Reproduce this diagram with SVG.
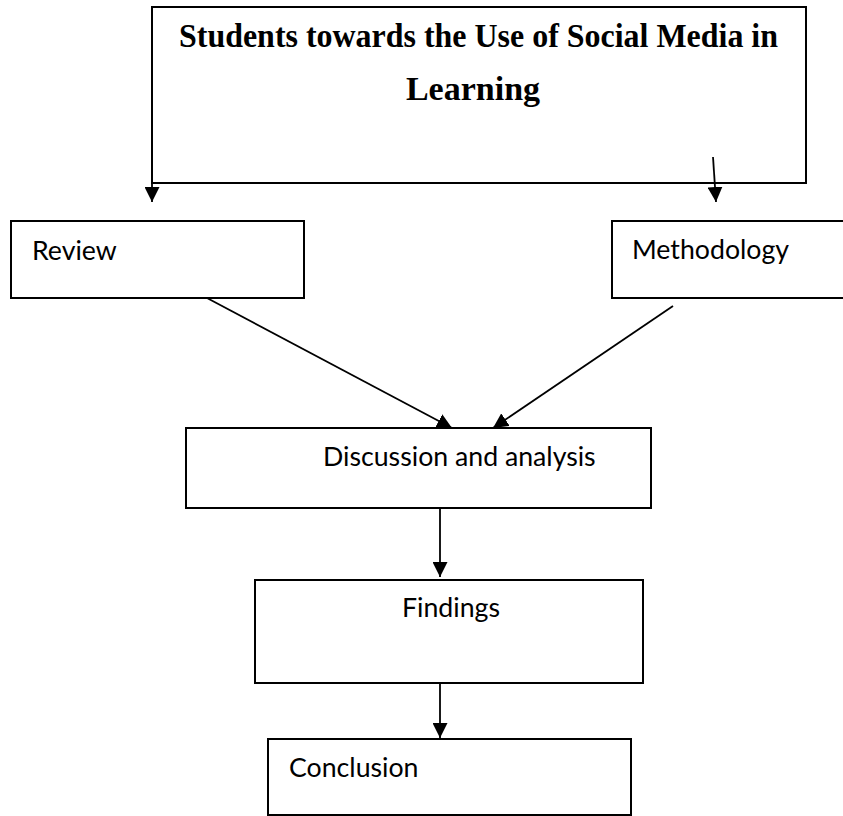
<svg xmlns="http://www.w3.org/2000/svg" width="843" height="816" viewBox="0 0 843 816">
<style>
.box{fill:#fff;stroke:#000;stroke-width:2}
.lbl{font-family:Lato,"Open Sans",sans-serif;font-size:26.7px;fill:#000}
.ttl{font-family:"Liberation Serif","Times New Roman",serif;font-weight:bold;font-size:34px;fill:#000}
.con{stroke:#000;stroke-width:1.8;fill:none}
</style>
<defs>
<marker id="ah" viewBox="0 0 10 10" refX="10" refY="5" markerWidth="15" markerHeight="15" markerUnits="userSpaceOnUse" orient="auto">
<path d="M0,0 L10,5 L0,10 z" fill="#000"/>
</marker>
</defs>
<rect width="843" height="816" fill="#fff"/>
<g id="top">
<rect class="box" x="152" y="7" width="654" height="176"/>
<text class="ttl" x="179" y="47" textLength="599" lengthAdjust="spacingAndGlyphs">Students towards the Use of Social Media in</text>
<text class="ttl" x="473" y="100" text-anchor="middle">Learning</text>
</g>
<g id="review">
<rect class="box" x="11" y="221" width="293" height="77"/>
<text class="lbl" x="32" y="260">Review</text>
</g>
<g id="methodology">
<rect class="box" x="612" y="221" width="240" height="77"/>
<text class="lbl" x="632" y="259">Methodology</text>
</g>
<g id="discussion">
<rect class="box" x="186" y="428" width="465" height="80"/>
<text class="lbl" x="323" y="466">Discussion and analysis</text>
</g>
<g id="findings">
<rect class="box" x="255" y="580" width="388" height="103"/>
<text class="lbl" x="402" y="617">Findings</text>
</g>
<g id="conclusion">
<rect class="box" x="268" y="739" width="363" height="76"/>
<text class="lbl" x="289" y="777">Conclusion</text>
</g>
<g id="connectors">
<line class="con" x1="152" y1="183" x2="152" y2="202" marker-end="url(#ah)"/>
<line class="con" x1="713" y1="157" x2="716" y2="202" marker-end="url(#ah)"/>
<line class="con" x1="207" y1="298" x2="452" y2="428" marker-end="url(#ah)"/>
<line class="con" x1="673" y1="306" x2="493" y2="428" marker-end="url(#ah)"/>
<line class="con" x1="440" y1="508" x2="440" y2="577" marker-end="url(#ah)"/>
<line class="con" x1="440" y1="683" x2="440" y2="738" marker-end="url(#ah)"/>
</g>
</svg>
